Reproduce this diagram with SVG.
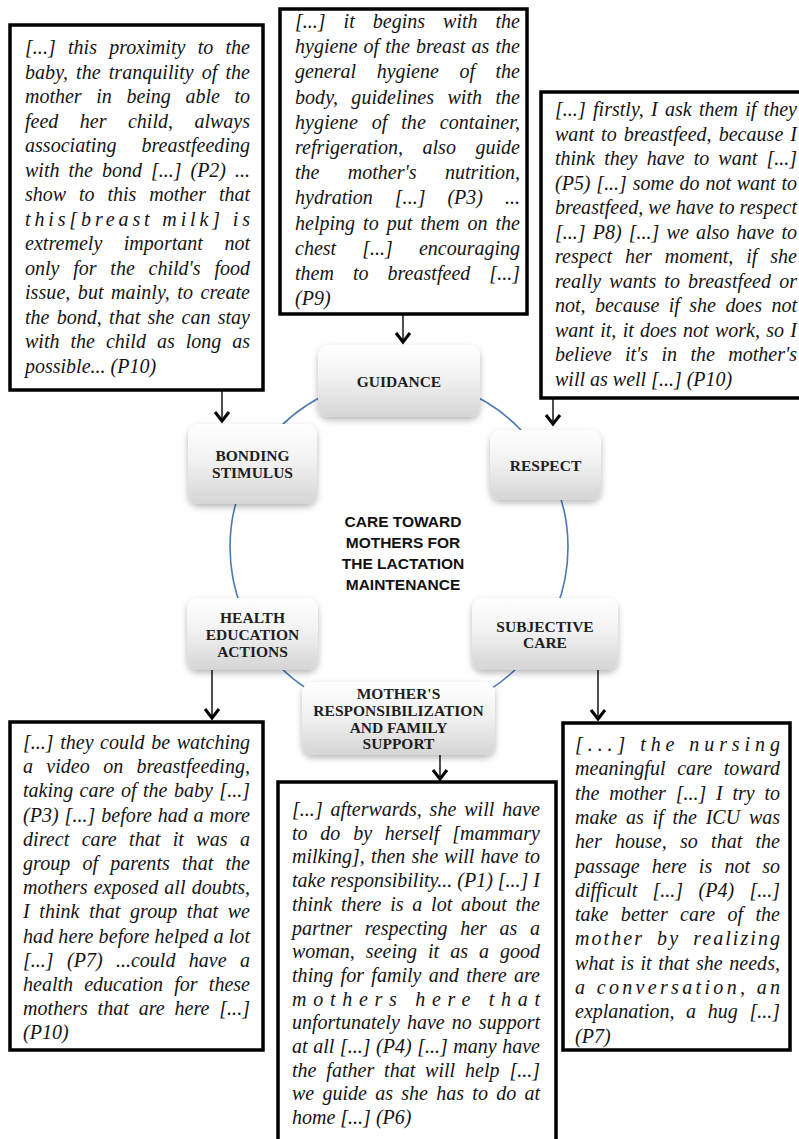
<svg xmlns="http://www.w3.org/2000/svg" width="799" height="1139" viewBox="0 0 799 1139">
<defs>
<style>
.box{fill:#fff;stroke:#000;stroke-width:3.5}
.q{font-family:"Liberation Serif","Times New Roman",serif;font-style:italic;font-size:20px;fill:#141414}
.nt{font-family:"Liberation Serif","Times New Roman",serif;font-weight:bold;font-size:15.5px;fill:#1e1e1e;text-anchor:middle}
.ct{font-family:"Liberation Sans",Arial,sans-serif;font-weight:bold;font-size:15.5px;fill:#111;text-anchor:middle}
.node{fill:url(#ng);filter:url(#sh)}
.conn{stroke:#222;stroke-width:1.6;fill:none;marker-end:url(#chev)}
</style>
<linearGradient id="ng" x1="0" y1="0" x2="0" y2="1">
<stop offset="0" stop-color="#ffffff"/>
<stop offset="0.45" stop-color="#f2f2f2"/>
<stop offset="1" stop-color="#d5d5d5"/>
</linearGradient>
<filter id="sh" x="-20%" y="-20%" width="140%" height="150%">
<feDropShadow dx="0" dy="3" stdDeviation="3" flood-color="#000" flood-opacity="0.28"/>
</filter>
<marker id="chev" markerUnits="userSpaceOnUse" markerWidth="20" markerHeight="20" refX="0" refY="0" orient="auto" viewBox="-12 -10 14 20" overflow="visible">
<path d="M-9,-7 L0,0 L-9,7" fill="none" stroke="#000" stroke-width="3" stroke-linejoin="miter"/>
</marker>
</defs>
<rect width="799" height="1139" fill="#fff"/>

<circle cx="399" cy="547" r="169" fill="none" stroke="#4a7ab3" stroke-width="1.6"/>

<g id="connectors">
<line class="conn" x1="222" y1="390" x2="222" y2="421"/>
<line class="conn" x1="403" y1="314" x2="403" y2="342"/>
<line class="conn" x1="553" y1="398" x2="553" y2="424"/>
<line class="conn" x1="212" y1="670" x2="212" y2="718"/>
<line class="conn" x1="440" y1="755" x2="440" y2="779"/>
<line class="conn" x1="598" y1="670" x2="598" y2="719"/>
</g>

<g id="quote-bonding">
<rect class="box" x="10" y="25" width="253" height="365"/>
<text class="q" x="25" y="54" word-spacing="7.2" textLength="225" lengthAdjust="spacing">[...] this proximity to the</text>
<text class="q" x="25" y="78.5" word-spacing="3" textLength="225" lengthAdjust="spacing">baby, the tranquility of the</text>
<text class="q" x="25" y="103" word-spacing="9.6" textLength="225" lengthAdjust="spacing">mother in being able to</text>
<text class="q" x="25" y="127.5" word-spacing="16.5" textLength="225" lengthAdjust="spacing">feed her child, always</text>
<text class="q" x="25" y="152" word-spacing="20" textLength="225" lengthAdjust="spacing">associating breastfeeding</text>
<text class="q" x="25" y="176.5" word-spacing="4" textLength="225" lengthAdjust="spacing">with the bond [...] (P2) ...</text>
<text class="q" x="25" y="201" word-spacing="7.9" textLength="225" lengthAdjust="spacing">show to this mother that</text>
<text class="q" x="25" y="225.5" textLength="225" lengthAdjust="spacing">this[breast milk] is</text>
<text class="q" x="25" y="250" word-spacing="16.4" textLength="225" lengthAdjust="spacing">extremely important not</text>
<text class="q" x="25" y="274.5" word-spacing="8.8" textLength="225" lengthAdjust="spacing">only for the child's food</text>
<text class="q" x="25" y="299" word-spacing="2.4" textLength="225" lengthAdjust="spacing">issue, but mainly, to create</text>
<text class="q" x="25" y="323.5" word-spacing="2.3" textLength="225" lengthAdjust="spacing">the bond, that she can stay</text>
<text class="q" x="25" y="348" word-spacing="6" textLength="225" lengthAdjust="spacing">with the child as long as</text>
<text class="q" x="25" y="372.5">possible... (P10)</text>
</g>

<g id="quote-guidance">
<rect class="box" x="280" y="9" width="247" height="305"/>
<text class="q" x="295" y="28" word-spacing="13" textLength="225" lengthAdjust="spacing">[...] it begins with the</text>
<text class="q" x="295" y="53.2" word-spacing="1.1" textLength="225" lengthAdjust="spacing">hygiene of the breast as the</text>
<text class="q" x="295" y="78.4" word-spacing="15.6" textLength="225" lengthAdjust="spacing">general hygiene of the</text>
<text class="q" x="295" y="103.6" word-spacing="8.3" textLength="225" lengthAdjust="spacing">body, guidelines with the</text>
<text class="q" x="295" y="128.8" word-spacing="8.7" textLength="225" lengthAdjust="spacing">hygiene of the container,</text>
<text class="q" x="295" y="154" word-spacing="14.5" textLength="225" lengthAdjust="spacing">refrigeration, also guide</text>
<text class="q" x="295" y="179.2" word-spacing="23.4" textLength="225" lengthAdjust="spacing">the mother's nutrition,</text>
<text class="q" x="295" y="204.4" word-spacing="17" textLength="225" lengthAdjust="spacing">hydration [...] (P3) ...</text>
<text class="q" x="295" y="229.6" word-spacing="3.1" textLength="225" lengthAdjust="spacing">helping to put them on the</text>
<text class="q" x="295" y="254.8" word-spacing="21.1" textLength="225" lengthAdjust="spacing">chest [...] encouraging</text>
<text class="q" x="295" y="280" word-spacing="13.9" textLength="225" lengthAdjust="spacing">them to breastfeed [...]</text>
<text class="q" x="295" y="305.2">(P9)</text>
</g>

<g id="quote-respect">
<rect class="box" x="541" y="92" width="270" height="306"/>
<text class="q" x="555" y="116" word-spacing="2.2" textLength="242" lengthAdjust="spacing">[...] firstly, I ask them if they</text>
<text class="q" x="555" y="140.5" word-spacing="2" textLength="242" lengthAdjust="spacing">want to breastfeed, because I</text>
<text class="q" x="555" y="165" word-spacing="4.2" textLength="242" lengthAdjust="spacing">think they have to want [...]</text>
<text class="q" x="555" y="189.5" word-spacing="0.8" textLength="242" lengthAdjust="spacing">(P5) [...] some do not want to</text>
<text class="q" x="555" y="214" textLength="242" lengthAdjust="spacing">breastfeed, we have to respect</text>
<text class="q" x="555" y="238.5" word-spacing="2.2" textLength="242" lengthAdjust="spacing">[...] P8) [...] we also have to</text>
<text class="q" x="555" y="263" word-spacing="7.9" textLength="242" lengthAdjust="spacing">respect her moment, if she</text>
<text class="q" x="555" y="287.5" word-spacing="3" textLength="242" lengthAdjust="spacing">really wants to breastfeed or</text>
<text class="q" x="555" y="312" word-spacing="4.4" textLength="242" lengthAdjust="spacing">not, because if she does not</text>
<text class="q" x="555" y="336.5" word-spacing="1.3" textLength="242" lengthAdjust="spacing">want it, it does not work, so I</text>
<text class="q" x="555" y="361" word-spacing="8.4" textLength="242" lengthAdjust="spacing">believe it's in the mother's</text>
<text class="q" x="555" y="385.5">will as well [...] (P10)</text>
</g>

<g id="quote-health">
<rect class="box" x="10" y="722" width="253" height="328"/>
<text class="q" x="23" y="749" word-spacing="1.6" textLength="227" lengthAdjust="spacing">[...] they could be watching</text>
<text class="q" x="23" y="773.2" word-spacing="8.3" textLength="227" lengthAdjust="spacing">a video on breastfeeding,</text>
<text class="q" x="23" y="797.4" word-spacing="1.4" textLength="227" lengthAdjust="spacing">taking care of the baby [...]</text>
<text class="q" x="23" y="821.6" word-spacing="0.7" textLength="227" lengthAdjust="spacing">(P3) [...] before had a more</text>
<text class="q" x="23" y="845.8" word-spacing="7.3" textLength="227" lengthAdjust="spacing">direct care that it was a</text>
<text class="q" x="23" y="870" word-spacing="7" textLength="227" lengthAdjust="spacing">group of parents that the</text>
<text class="q" x="23" y="894.2" word-spacing="1.2" textLength="227" lengthAdjust="spacing">mothers exposed all doubts,</text>
<text class="q" x="23" y="918.4" word-spacing="4.6" textLength="227" lengthAdjust="spacing">I think that group that we</text>
<text class="q" x="23" y="942.6" textLength="227" lengthAdjust="spacing">had here before helped a lot</text>
<text class="q" x="23" y="966.8" word-spacing="8.4" textLength="227" lengthAdjust="spacing">[...] (P7) ...could have a</text>
<text class="q" x="23" y="991" word-spacing="6.2" textLength="227" lengthAdjust="spacing">health education for these</text>
<text class="q" x="23" y="1015.2" word-spacing="4.7" textLength="227" lengthAdjust="spacing">mothers that are here [...]</text>
<text class="q" x="23" y="1039.4">(P10)</text>
</g>

<g id="quote-family">
<rect class="box" x="278" y="782" width="278" height="380"/>
<text class="q" x="292" y="816" word-spacing="2.8" textLength="248" lengthAdjust="spacing">[...] afterwards, she will have</text>
<text class="q" x="292" y="839.7" word-spacing="7.8" textLength="248" lengthAdjust="spacing">to do by herself [mammary</text>
<text class="q" x="292" y="863.4" word-spacing="1.2" textLength="248" lengthAdjust="spacing">milking], then she will have to</text>
<text class="q" x="292" y="887.1" textLength="248" lengthAdjust="spacing">take responsibility... (P1) [...] I</text>
<text class="q" x="292" y="910.8" word-spacing="3.7" textLength="248" lengthAdjust="spacing">think there is a lot about the</text>
<text class="q" x="292" y="934.5" word-spacing="7.6" textLength="248" lengthAdjust="spacing">partner respecting her as a</text>
<text class="q" x="292" y="958.2" word-spacing="6" textLength="248" lengthAdjust="spacing">woman, seeing it as a good</text>
<text class="q" x="292" y="981.9" word-spacing="2.2" textLength="248" lengthAdjust="spacing">thing for family and there are</text>
<text class="q" x="292" y="1005.6" textLength="248" lengthAdjust="spacing">mothers here that</text>
<text class="q" x="292" y="1029.3" word-spacing="2.1" textLength="248" lengthAdjust="spacing">unfortunately have no support</text>
<text class="q" x="292" y="1053" word-spacing="0.6" textLength="248" lengthAdjust="spacing">at all [...] (P4) [...] many have</text>
<text class="q" x="292" y="1076.7" word-spacing="4.9" textLength="248" lengthAdjust="spacing">the father that will help [...]</text>
<text class="q" x="292" y="1100.4" word-spacing="3.3" textLength="248" lengthAdjust="spacing">we guide as she has to do at</text>
<text class="q" x="292" y="1124.1">home [...] (P6)</text>
</g>

<g id="quote-subjective">
<rect class="box" x="563" y="723" width="227" height="327"/>
<text class="q" x="575" y="751" textLength="205" lengthAdjust="spacing">[...] the nursing</text>
<text class="q" x="575" y="775.3" word-spacing="6.4" textLength="205" lengthAdjust="spacing">meaningful care toward</text>
<text class="q" x="575" y="799.6" word-spacing="4.8" textLength="205" lengthAdjust="spacing">the mother [...] I try to</text>
<text class="q" x="575" y="823.9" word-spacing="3.8" textLength="205" lengthAdjust="spacing">make as if the ICU was</text>
<text class="q" x="575" y="848.2" word-spacing="8.3" textLength="205" lengthAdjust="spacing">her house, so that the</text>
<text class="q" x="575" y="872.5" word-spacing="7.1" textLength="205" lengthAdjust="spacing">passage here is not so</text>
<text class="q" x="575" y="896.8" word-spacing="10.4" textLength="205" lengthAdjust="spacing">difficult [...] (P4) [...]</text>
<text class="q" x="575" y="921.1" word-spacing="7.4" textLength="205" lengthAdjust="spacing">take better care of the</text>
<text class="q" x="575" y="945.4" word-spacing="6" textLength="205" lengthAdjust="spacing">mother by realizing</text>
<text class="q" x="575" y="969.7" word-spacing="1.4" textLength="205" lengthAdjust="spacing">what is it that she needs,</text>
<text class="q" x="575" y="994" textLength="205" lengthAdjust="spacing">a conversation, an</text>
<text class="q" x="575" y="1018.3" word-spacing="6.7" textLength="205" lengthAdjust="spacing">explanation, a hug [...]</text>
<text class="q" x="575" y="1042.6">(P7)</text>
</g>

<g id="node-guidance">
<rect class="node" x="318" y="345" width="162" height="72" rx="11"/>
<text class="nt" x="399" y="386.5">GUIDANCE</text>
</g>
<g id="node-bonding">
<rect class="node" x="188" y="424" width="129" height="80" rx="11"/>
<text class="nt" x="252.5" y="460.5">BONDING</text>
<text class="nt" x="252.5" y="477.5">STIMULUS</text>
</g>
<g id="node-respect">
<rect class="node" x="490" y="430" width="111" height="70" rx="11"/>
<text class="nt" x="545.5" y="470.5">RESPECT</text>
</g>
<g id="node-health">
<rect class="node" x="187" y="598" width="131" height="72" rx="11"/>
<text class="nt" x="252.5" y="622.5">HEALTH</text>
<text class="nt" x="252.5" y="639.5">EDUCATION</text>
<text class="nt" x="252.5" y="656.5">ACTIONS</text>
</g>
<g id="node-subjective">
<rect class="node" x="472" y="598" width="146" height="72" rx="11"/>
<text class="nt" x="545" y="631.5">SUBJECTIVE</text>
<text class="nt" x="545" y="647.5">CARE</text>
</g>
<g id="node-family">
<rect class="node" x="302" y="682" width="193" height="73" rx="11"/>
<text class="nt" x="398.5" y="698.5">MOTHER'S</text>
<text class="nt" x="398.5" y="715.5">RESPONSIBILIZATION</text>
<text class="nt" x="398.5" y="732.5">AND FAMILY</text>
<text class="nt" x="398.5" y="749">SUPPORT</text>
</g>

<g id="center">
<text class="ct" x="403" y="527">CARE TOWARD</text>
<text class="ct" x="403" y="548">MOTHERS FOR</text>
<text class="ct" x="403" y="569">THE LACTATION</text>
<text class="ct" x="403" y="590">MAINTENANCE</text>
</g>
</svg>
